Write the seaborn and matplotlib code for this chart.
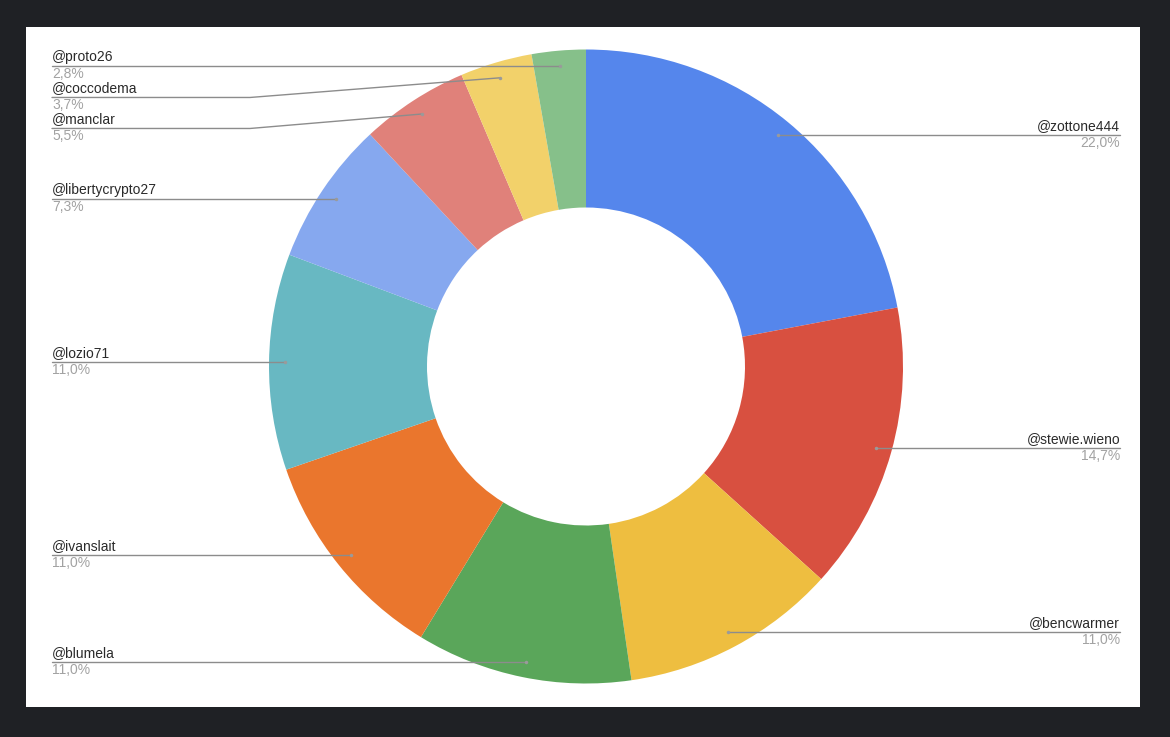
import numpy as np
import matplotlib
matplotlib.use("Agg")
import matplotlib.pyplot as plt
from matplotlib.patches import Rectangle
import seaborn as sns

# data: message counts per user (percent shown on the chart)
names = ["@zottone444", "@stewie.wieno", "@bencwarmer", "@blumela", "@ivanslait",
         "@lozio71", "@libertycrypto27", "@manclar", "@coccodema", "@proto26"]
counts = [24, 16, 12, 12, 12, 12, 8, 6, 4, 3]
colors = ["#5586ec", "#d85040", "#eebe40", "#5aa65a", "#ea762d",
          "#68b8c2", "#86a8ef", "#e0817a", "#f2d16a", "#86c08a"]

sns.set_theme(style="white")
plt.rcParams["font.family"] = ["Liberation Sans", "DejaVu Sans"]

W, H = 1170, 737
fig = plt.figure(figsize=(W / 100, H / 100), dpi=100, facecolor="#1f2125")
ax = fig.add_axes([0, 0, 1, 1])
ax.set_facecolor("#1f2125")

# white chart panel
ax.add_patch(Rectangle((26, H - 707), 1114, 680, facecolor="white", edgecolor="none", zorder=0))

cx, cy_px, r = 586, 366.5, 317
cy = H - cy_px
ax.pie(counts, colors=colors, startangle=90, counterclock=False,
       center=(cx, cy), radius=r,
       wedgeprops=dict(width=158, edgecolor="none", linewidth=0))

ax.set_xlim(0, W)
ax.set_ylim(0, H)
ax.set_aspect("equal")
ax.axis("off")

total = float(sum(counts))
frac = np.array(counts) / total
mids = np.cumsum(frac) - frac / 2
ang = np.pi / 2 - 2 * np.pi * mids
dx = cx + 0.95 * r * np.cos(ang)
dy = cy + 0.95 * r * np.sin(ang)

line_col = "#8c8c8c"
name_col = "#2a2a2a"
pct_col = "#a2a2a2"


def pct_text(f):
    return ("%.1f%%" % (100 * f)).replace(".", ",")


# label y positions: left side pushed down so they don't overlap
label_y = dy.copy()
left = [i for i in range(len(names)) if dx[i] < cx]
left.sort(key=lambda i: -dy[i])
prev = None
for i in left:
    if prev is not None and label_y[i] > prev - 31:
        label_y[i] = prev - 31
    prev = label_y[i]

for i in range(len(names)):
    ly = label_y[i]
    if dx[i] >= cx:
        tx, ha = 1120, "right"
        ax.plot([dx[i], tx], [dy[i], ly], color=line_col, lw=1, zorder=3)
    else:
        tx, ha = 52, "left"
        if abs(ly - dy[i]) > 3:
            bx = 250
            ax.plot([dx[i], bx, tx], [dy[i], ly, ly], color=line_col, lw=1, zorder=3)
        else:
            ax.plot([dx[i], tx], [dy[i], ly], color=line_col, lw=1, zorder=3)
    ax.plot(dx[i], dy[i], "o", ms=2.5, color="#9a9a9a", mec="none", zorder=4)
    ax.text(tx, ly + 2, names[i], ha=ha, va="bottom", fontsize=10, color=name_col)
    ax.text(tx, ly - 1, pct_text(frac[i]), ha=ha, va="top", fontsize=10, color=pct_col)

fig.savefig("out.png", dpi=100, facecolor=fig.get_facecolor())
